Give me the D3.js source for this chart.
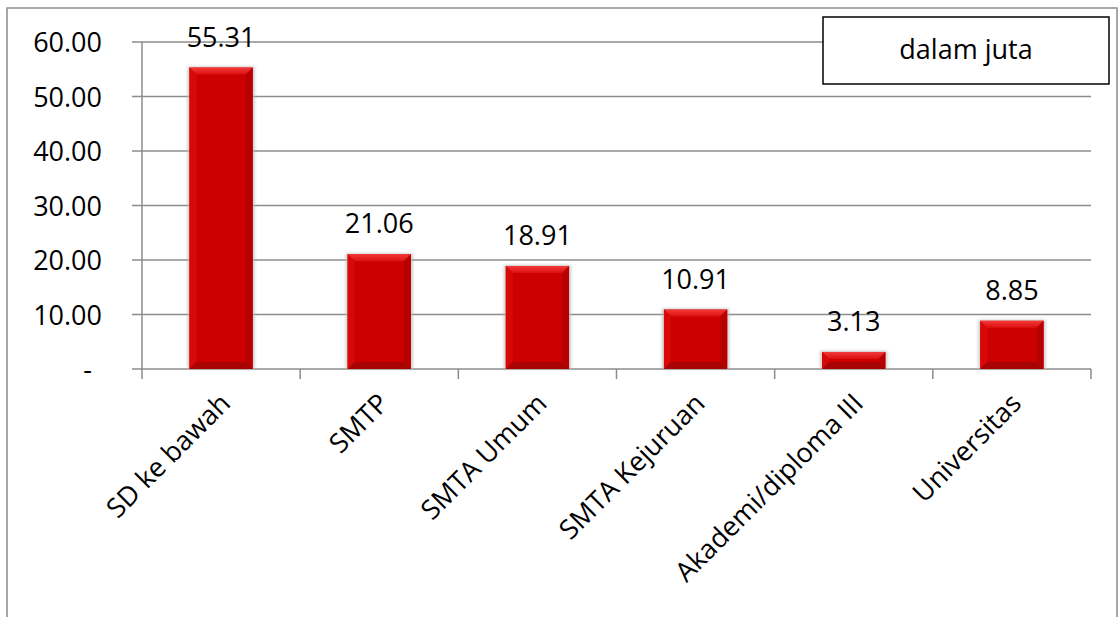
<!DOCTYPE html>
<html>
<head>
<meta charset="utf-8">
<script src="https://cdn.jsdelivr.net/npm/d3@7"></script>
<style>
  body { margin: 0; background: #fff; }
  text { font-family: "Open Sans", sans-serif; fill: #000; }
</style>
</head>
<body>
<svg id="chart" width="1120" height="617"></svg>
<script>
// categories and values (in millions)
const categories = ['SD ke bawah', 'SMTP', 'SMTA Umum', 'SMTA Kejuruan', 'Akademi/diploma III', 'Universitas'];
const values = [55.31, 21.06, 18.91, 10.91, 3.13, 8.85];
const yTicks = [0, 10, 20, 30, 40, 50, 60];
const unitLabel = 'dalam juta';

const svg = d3.select('#chart');
const plotLeft = 142, plotRight = 1091, plotTop = 42, plotBottom = 369;

// outer frame
svg.append('rect')
    .attr('x', 7).attr('y', 8)
    .attr('width', 1110).attr('height', 700)
    .attr('fill', 'none')
    .attr('stroke', '#8c8c8c')
    .attr('stroke-width', 1.5);

const x = d3.scaleBand()
    .domain(categories)
    .range([plotLeft, plotRight])
    .paddingInner(0.6)
    .paddingOuter(0.3);

const y = d3.scaleLinear()
    .domain([0, 60])
    .range([plotBottom, plotTop]);

// gridlines + y labels
const fmt = d3.format('.2f');
const yAxis = svg.append('g');
yAxis.selectAll('line.grid')
    .data(yTicks)
    .join('line')
    .attr('x1', plotLeft - 10).attr('x2', plotRight)
    .attr('y1', d => y(d)).attr('y2', d => y(d))
    .attr('stroke', '#8c8c8c')
    .attr('stroke-width', 1.5);
yAxis.selectAll('text')
    .data(yTicks)
    .join('text')
    .attr('x', d => d === 0 ? 92 : 102)
    .attr('y', d => y(d) + 10)
    .attr('text-anchor', 'end')
    .style('font-size', '27px')
    .text(d => d === 0 ? '-' : fmt(d));

// y axis line
svg.append('line')
    .attr('x1', plotLeft).attr('x2', plotLeft)
    .attr('y1', plotTop).attr('y2', plotBottom + 10)
    .attr('stroke', '#8c8c8c').attr('stroke-width', 1.5);

// category ticks
const catW = (plotRight - plotLeft) / categories.length;
svg.selectAll('line.ctick')
    .data(d3.range(1, categories.length + 1))
    .join('line')
    .attr('x1', i => plotLeft + i * catW)
    .attr('x2', i => plotLeft + i * catW)
    .attr('y1', plotBottom).attr('y2', plotBottom + 10)
    .attr('stroke', '#8c8c8c').attr('stroke-width', 1.5);

// defs: shadow blur and facet gradients
const defs = svg.append('defs');
defs.append('filter').attr('id', 'shadow')
    .attr('x', '-20%').attr('y', '-20%').attr('width', '140%').attr('height', '140%')
    .append('feGaussianBlur').attr('stdDeviation', 1.6);
const topGrad = defs.append('linearGradient').attr('id', 'topFacet')
    .attr('x1', 0).attr('y1', 0).attr('x2', 0).attr('y2', 1);
topGrad.append('stop').attr('offset', '0%').attr('stop-color', '#f23a3a');
topGrad.append('stop').attr('offset', '100%').attr('stop-color', '#dc0f0f');

const bars = svg.append('g').selectAll('g')
    .data(categories.map((c, i) => ({ c, v: values[i] })))
    .join('g');

const bev = 7;
bars.each(function (d) {
    const g = d3.select(this);
    const x0 = x(d.c), w = x.bandwidth();
    const y0 = y(d.v), y1 = y(0);
    const b = Math.min(bev, (y1 - y0) / 2);
    g.append('rect')
        .attr('x', x0 - 2).attr('y', y0 - 1)
        .attr('width', w + 4).attr('height', y1 - y0 + 1)
        .attr('fill', '#b8b8b8').attr('opacity', 0.7)
        .attr('filter', 'url(#shadow)');
    g.append('rect')
        .attr('x', x0).attr('y', y0)
        .attr('width', w).attr('height', y1 - y0)
        .attr('fill', '#cc0000');
    // facets
    const pts = (a) => a.map(p => p.join(',')).join(' ');
    g.append('polygon')
        .attr('points', pts([[x0, y0], [x0 + w, y0], [x0 + w - b, y0 + b], [x0 + b, y0 + b]]))
        .attr('fill', 'url(#topFacet)');
    g.append('polygon')
        .attr('points', pts([[x0, y0], [x0 + b, y0 + b], [x0 + b, y1 - b], [x0, y1]]))
        .attr('fill', '#d90808');
    g.append('polygon')
        .attr('points', pts([[x0 + w, y0], [x0 + w - b, y0 + b], [x0 + w - b, y1 - b], [x0 + w, y1]]))
        .attr('fill', '#b80000');
    g.append('polygon')
        .attr('points', pts([[x0, y1], [x0 + b, y1 - b], [x0 + w - b, y1 - b], [x0 + w, y1]]))
        .attr('fill', '#a80404');
    g.append('text')
        .attr('x', x0 + w / 2)
        .attr('y', y0 - 21)
        .attr('text-anchor', 'middle')
        .style('font-size', '27px')
        .text(fmt(d.v));
});

// rotated category labels
svg.append('g').selectAll('text')
    .data(categories)
    .join('text')
    .attr('transform', d => `translate(${x(d) + x.bandwidth() / 2 + 11},${plotBottom + 36}) rotate(-45)`)
    .attr('text-anchor', 'end')
    .style('font-size', '27px')
    .text(d => d);

// unit box
svg.append('rect')
    .attr('x', 823).attr('y', 17)
    .attr('width', 286).attr('height', 67)
    .attr('fill', '#fff')
    .attr('stroke', '#000')
    .attr('stroke-width', 1.5);
svg.append('text')
    .attr('x', 966).attr('y', 59)
    .attr('text-anchor', 'middle')
    .style('font-size', '27px')
    .text(unitLabel);
</script>
</body>
</html>
